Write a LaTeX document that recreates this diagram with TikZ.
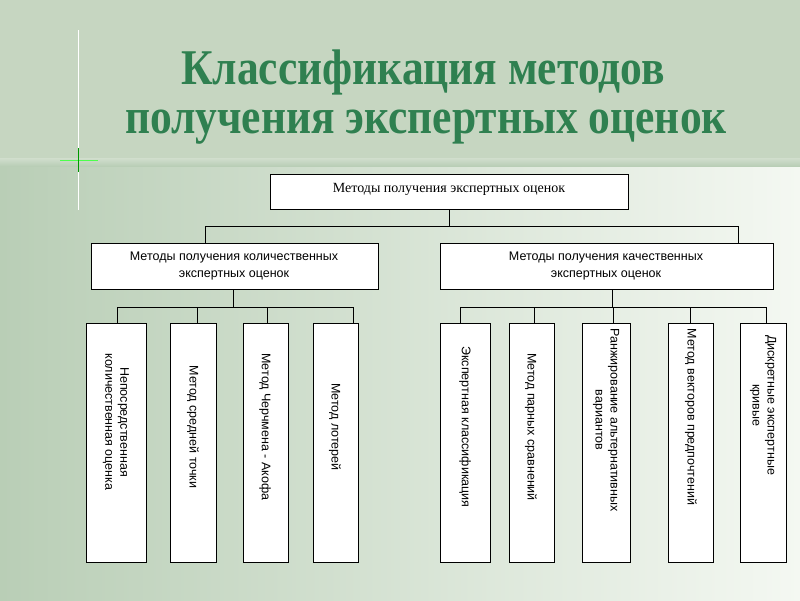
\documentclass[tikz,border=0pt]{standalone}
\usepackage{fontspec}
\setmainfont{Liberation Serif}
\newfontfamily\arialf{Liberation Sans}
\usetikzlibrary{positioning}
\definecolor{titleg}{HTML}{2F8050}
\definecolor{bandg}{HTML}{C6D6C1}
\definecolor{lowl}{HTML}{B9CEB6}
\definecolor{lowr}{HTML}{F4F8F2}
\begin{document}
\begin{tikzpicture}[x=1pt,y=-1pt,
  box/.style={draw=black,fill=white,line width=0.6pt,inner sep=2pt,align=center},
  leaf/.style={draw=black,fill=white,line width=0.6pt},
  ltxt/.style={rotate=-90,align=center,font=\arialf\fontsize{12.5}{15}\selectfont},
  ttl/.style={font=\bfseries\fontsize{50}{56}\selectfont,inner sep=0pt,text height=30pt,text depth=8pt},
  conn/.style={line width=0.6pt}]
\useasboundingbox (0,0) rectangle (800,600);
\shade[left color=lowl,right color=lowr] (0,160) rectangle (800,600);
\fill[bandg] (0,0) rectangle (800,160);
\shade[top color=bandg!80!white, bottom color=lowl] (0,158) rectangle (800,166);
\draw[white,line width=0.5pt] (78,30) -- (78,210);
\draw[green!70!white,line width=0.8pt] (60,160) -- (98,160);
\draw[green!60!black,line width=0.5pt] (78,148) -- (78,172);
% title
\node[ttl,text=titleg] (t1) at (423,73) {\scalebox{0.87}[1]{Классификация методов}};
\node[ttl,text=titleg] (t2) at (426,122) {\scalebox{0.87}[1]{получения экспертных оценок}};
% boxes
\node[box,minimum width=358,minimum height=35,anchor=north west] (top) at (270,174) {};
\node[font=\fontsize{14}{16}\selectfont] at (449,189) {Методы получения экспертных оценок};
\node[box,minimum width=287,minimum height=46,anchor=north west] (q) at (91,243) {};
\node[font=\arialf\fontsize{12.5}{17}\selectfont,align=center] at (234,266) {Методы получения количественных\\экспертных оценок};
\node[box,minimum width=333,minimum height=46,anchor=north west] (k) at (440,243) {};
\node[font=\arialf\fontsize{12.5}{17}\selectfont,align=center] at (606,266) {Методы получения качественных\\экспертных оценок};
% leaves
\foreach \n/\a/\b in {l1/86/146,l2/170/216,l3/243/288,l4/313/358,r1/440/490,r2/509/554,r3/582/630,r4/668/713,r5/740/786}{
  \draw[leaf] (\a,323) rectangle (\b,562);
  \coordinate (\n) at ({(\a+\b)/2},323);
}
\node[ltxt] at (116,422) {Непосредственная\\количественная оценка};
\node[ltxt] at (193,427) {Метод средней точки};
\node[ltxt] at (265,427) {Метод Черчмена - Акофа};
\node[ltxt] at (335,427) {Метод лотерей};
\node[ltxt] at (465,427) {Экспертная классификация};
\node[ltxt] at (531,427) {Метод парных сравнений};
\node[ltxt,anchor=west] at (606,325) {Ранжирование альтернативных\\вариантов};
\node[ltxt,anchor=west] at (691,325) {Метод векторов предпочтений};
\node[ltxt] at (763,405) {Дискретные экспертные\\кривые};
% connectors
\draw[conn] (449,209) -- (449,226);
\draw[conn] (205,243) -- (205,226) -- (738,226) -- (738,243);
\draw[conn] (233,289) -- (233,307);
\draw[conn] (117,323) -- (117,307) -- (353,307) -- (353,323);
\draw[conn] (197,307) -- (197,323) (267,307) -- (267,323);
\draw[conn] (612,289) -- (612,307);
\draw[conn] (460,323) -- (460,307) -- (766,307) -- (766,323);
\draw[conn] (534,307) -- (534,323) (613,307) -- (613,323) (690,307) -- (690,323);
\end{tikzpicture}
\end{document}
